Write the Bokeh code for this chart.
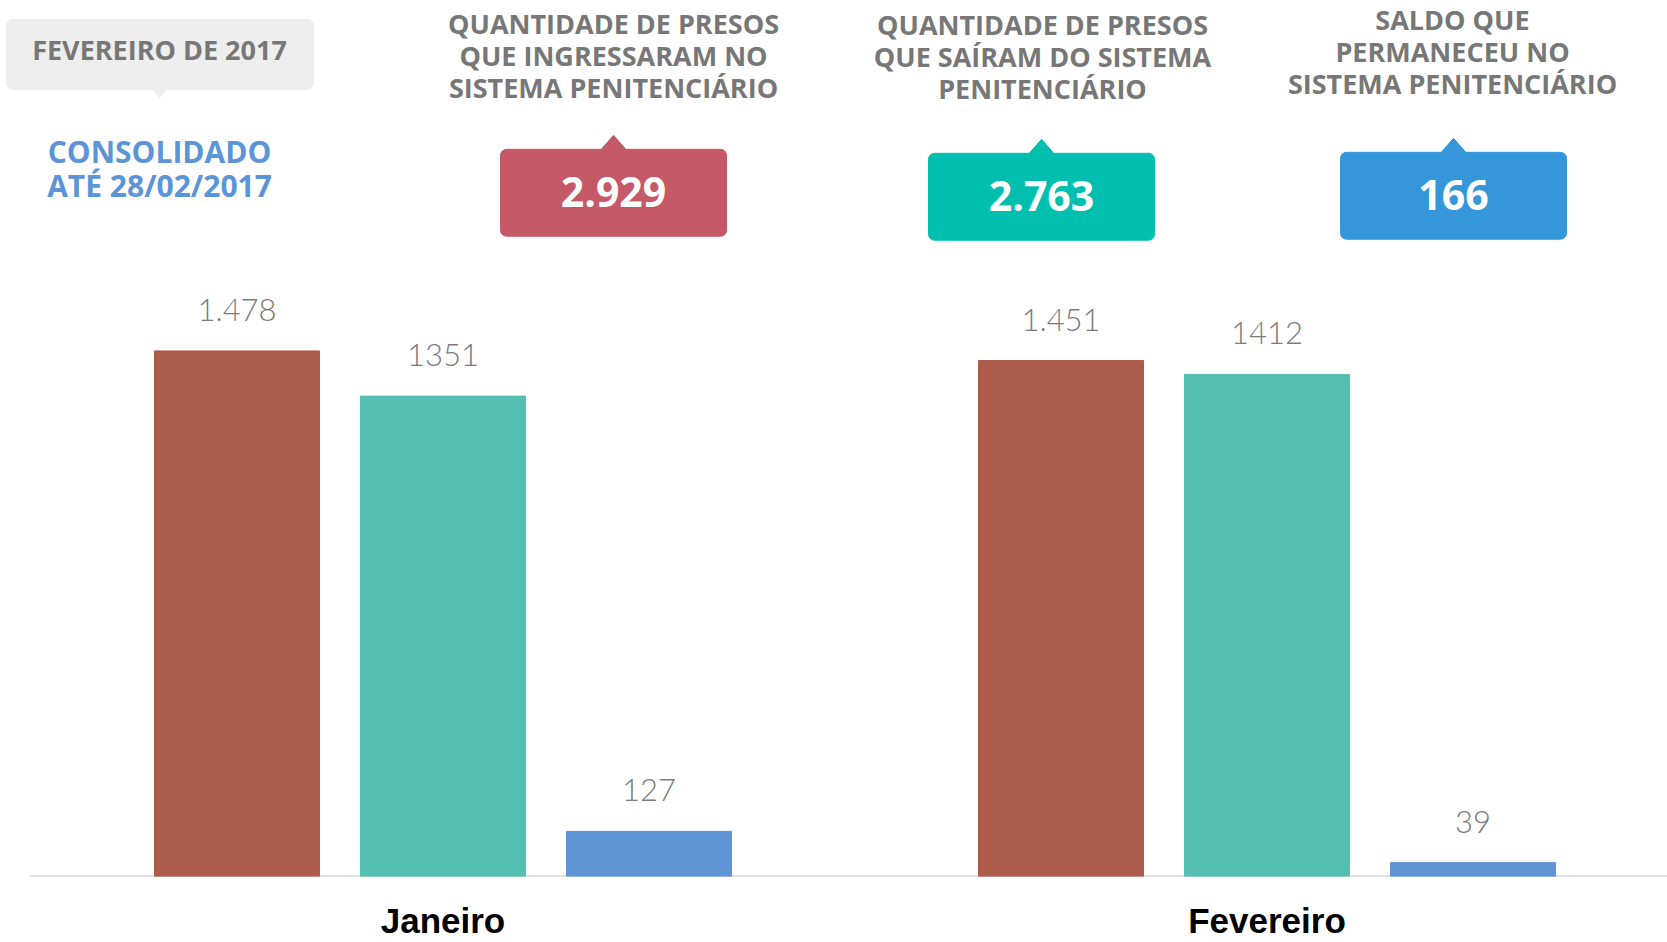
from bokeh.plotting import figure
from bokeh.models import Range1d, FixedTicker
from bokeh.core.properties import value
from bokeh.embed import file_html
from bokeh.resources import INLINE

# ---------------- data ----------------
months = ["Janeiro", "Fevereiro"]
series = ["Ingressaram", "Saíram", "Saldo"]
entradas = [1478, 1451]
saidas = [1351, 1412]
saldo = [127, 39]
labels_entradas = ["1.478", "1.451"]
labels_saidas = ["1351", "1412"]
labels_saldo = ["127", "39"]
header_1 = ["QUANTIDADE DE PRESOS", "QUE INGRESSARAM NO", "SISTEMA PENITENCIÁRIO"]
header_2 = ["QUANTIDADE DE PRESOS", "QUE SAÍRAM DO SISTEMA", "PENITENCIÁRIO"]
header_3 = ["SALDO QUE", "PERMANECEU NO", "SISTEMA PENITENCIÁRIO"]
period_label = "FEVEREIRO DE 2017"
consolidado = ["CONSOLIDADO", "ATÉ 28/02/2017"]

def fmt_br(n):
    return f"{n:,}".replace(",", ".")

total_in = sum(entradas)
total_out = sum(saidas)
totals = [fmt_br(total_in), fmt_br(total_out), fmt_br(total_in - total_out)]

# ---------------- layout ----------------
W, H = 1667, 942
BASE_Y = 877          # px of the baseline
AXIS_H = H - BASE_Y
FRAME_H = BASE_Y
STEP = 206.0          # px per slot
PX_PER_UNIT = 0.356   # px per prisoner
X0 = -236.5 / STEP

def X(px):
    return X0 + px / STEP

def Y(py):
    return (FRAME_H - py) / PX_PER_UNIT

p = figure(width=W, height=H, output_backend="svg", toolbar_location=None,
           x_range=Range1d(X0, X0 + W / STEP), y_range=Range1d(0, FRAME_H / PX_PER_UNIT),
           y_axis_location=None, min_border_left=0, min_border_right=0,
           min_border_top=0, min_border_bottom=AXIS_H)
p.outline_line_color = None
p.xgrid.grid_line_color = None
p.ygrid.grid_line_color = None
p.background_fill_color = "white"
p.border_fill_color = "white"

# baseline
p.segment(x0=[X(30)], y0=[0], x1=[X0 + W / STEP], y1=[0], line_color="#c6c6c6", line_width=2)

# bars
bar_colors = ["#ad5b4b", "#53bfb0", "#5f94d6"]
values = [entradas, saidas, saldo]
labels = [labels_entradas, labels_saidas, labels_saldo]
n = len(series) + 1
for si in range(len(series)):
    xs = [mi * n + si for mi in range(len(months))]
    p.vbar(x=xs, top=values[si], bottom=0, width=165 / STEP, color=bar_colors[si])
    p.text(x=xs, y=values[si], text=labels[si], text_align="center", text_baseline="middle",
           y_offset=-41, text_font=value("Lato Light"), text_font_size="31px", text_color="#7b7b7b")

# axis with month labels
p.xaxis.ticker = FixedTicker(ticks=[mi * n + 1 for mi in range(len(months))])
p.xaxis.major_label_overrides = {mi * n + 1: m for mi, m in enumerate(months)}
p.xaxis.axis_line_color = None
p.xaxis.major_tick_line_color = None
p.xaxis.minor_tick_line_color = None
p.xaxis.major_tick_out = 0
p.xaxis.major_tick_in = 0
p.xaxis.major_label_standoff = 24
p.xaxis.major_label_text_font = "Liberation Sans"
p.xaxis.major_label_text_font_style = "bold"
p.xaxis.major_label_text_font_size = "35px"
p.xaxis.major_label_text_color = "#000000"

# period box (top-left)
p.quad(left=[X(6)], right=[X(313)], top=[Y(19)], bottom=[Y(89)], color="#eeeeee", border_radius=6)
p.patches(xs=[[X(151), X(167), X(159)]], ys=[[Y(88), Y(88), Y(97)]], color="#eeeeee")
p.text(x=[X(159)], y=[Y(49)], text=[period_label], text_align="center", text_baseline="middle",
       text_font=value("Open Sans"), text_font_style="bold", text_font_size="27px", text_color="#777777")
p.text(x=[X(159)] * 2, y=[Y(151), Y(185)], text=consolidado, text_align="center", text_baseline="middle",
       text_font=value("Open Sans"), text_font_style="bold", text_font_size="30px", text_color="#5b95d8")

# headers
headers = [header_1, header_2, header_3]
head_cx = [613, 1042, 1452]
head_y0 = [23, 24, 19]
for hi, lines in enumerate(headers):
    p.text(x=[X(head_cx[hi])] * len(lines), y=[Y(head_y0[hi] + 32 * k) for k in range(len(lines))],
           text=lines, text_align="center", text_baseline="middle",
           text_font=value("Open Sans"), text_font_style="bold", text_font_size="27px", text_color="#777777")

# total boxes
box_colors = ["#c55967", "#00bfae", "#3597da"]
box_l = [500, 928, 1340]
box_t = [149, 153, 152]
for bi in range(3):
    cx = box_l[bi] + 113
    p.patches(xs=[[X(cx - 14), X(cx + 14), X(cx)]],
              ys=[[Y(box_t[bi] + 2), Y(box_t[bi] + 2), Y(box_t[bi] - 14)]], color=box_colors[bi])
    p.quad(left=[X(box_l[bi])], right=[X(box_l[bi] + 226)], top=[Y(box_t[bi])], bottom=[Y(box_t[bi] + 87)],
           color=box_colors[bi], border_radius=6)
    p.text(x=[X(cx)], y=[Y(box_t[bi] + 43)], text=[totals[bi]], text_align="center", text_baseline="middle",
           text_font=value("Open Sans"), text_font_style="bold", text_font_size="41px", text_color="white")

open("out.html", "w").write(file_html(p, INLINE))
